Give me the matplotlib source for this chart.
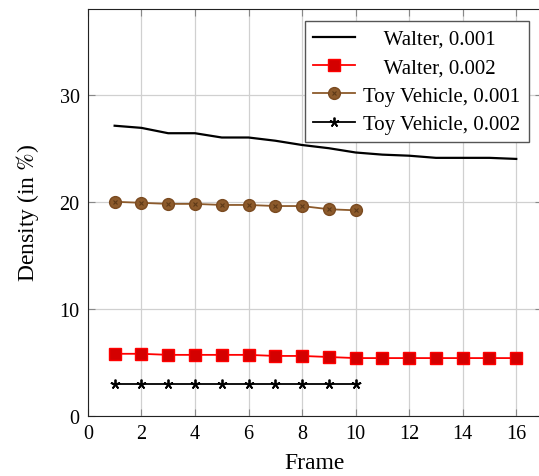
import matplotlib.pyplot as plt

plt.rcParams['font.family'] = ['Liberation Serif', 'DejaVu Serif']
plt.rcParams['mathtext.fontset'] = 'stix'

frames_walter = [1, 2, 3, 4, 5, 6, 7, 8, 9, 10, 11, 12, 13, 14, 15, 16]
frames_toy = [1, 2, 3, 4, 5, 6, 7, 8, 9, 10]

walter_001 = [27.1, 26.9, 26.4, 26.4, 26.0, 26.0, 25.7, 25.3, 25.0, 24.6,
              24.4, 24.3, 24.1, 24.1, 24.1, 24.0]
walter_002 = [5.8, 5.8, 5.7, 5.7, 5.7, 5.7, 5.6, 5.6, 5.5, 5.4,
              5.4, 5.4, 5.4, 5.4, 5.4, 5.4]
toy_001 = [20.0, 19.9, 19.8, 19.8, 19.7, 19.7, 19.6, 19.6, 19.3, 19.2]
toy_002 = [3.0, 3.0, 3.0, 3.0, 3.0, 3.0, 3.0, 3.0, 3.0, 3.0]

labels = ["    Walter, 0.001", "    Walter, 0.002",
          "Toy Vehicle, 0.001", "Toy Vehicle, 0.002"]

brown = "#8c5a2b"

fig = plt.figure(figsize=(5.39, 4.77), dpi=100)
ax = fig.add_axes([0.163, 0.126, 0.842, 0.853])

l1, = ax.plot(frames_walter, walter_001, color="black", lw=1.6)
l2, = ax.plot(frames_walter, walter_002, color="red", lw=1.3, marker="s",
              ms=8.5, mfc="#d40000", mec="red")
l3, = ax.plot(frames_toy, toy_001, color=brown, lw=1.3, marker="o",
              ms=8.5, mfc=brown, mec="#7a4a20")
l3x, = ax.plot(frames_toy, toy_001, ls="none", marker="x", ms=3.5,
               mec="#5e3a18", mew=0.8)
l4, = ax.plot(frames_toy, toy_002, color="black", lw=1.3, marker=(5, 2, 0),
              ms=7, mew=1.3)

ax.set_xlim(0, 16.95)
ax.set_ylim(0, 38)
ax.set_xticks(range(0, 17, 2))
ax.set_yticks([0, 10, 20, 30])
ax.grid(True, color="#d0d0d0", lw=0.9)
ax.set_axisbelow(True)
ax.tick_params(direction="in", length=5, color="#888888", labelsize=14.5,
               top=True, right=True, pad=6)
for s in ax.spines.values():
    s.set_color("#222222")

ax.set_xlabel("Frame", fontsize=17, labelpad=6)
ax.set_ylabel(r"Density (in $\mathit{\%}$)", fontsize=17, labelpad=13)

leg = ax.legend([l1, l2, (l3, l3x), l4], labels, loc="upper right",
                fontsize=15, fancybox=False, edgecolor="#555555",
                framealpha=1, handlelength=2.0, handletextpad=0.4,
                borderpad=0.4, labelspacing=0.42, borderaxespad=0,
                bbox_to_anchor=(0.971, 0.9705))
leg.get_frame().set_linewidth(1.0)

plt.savefig("out.png", dpi=100)
